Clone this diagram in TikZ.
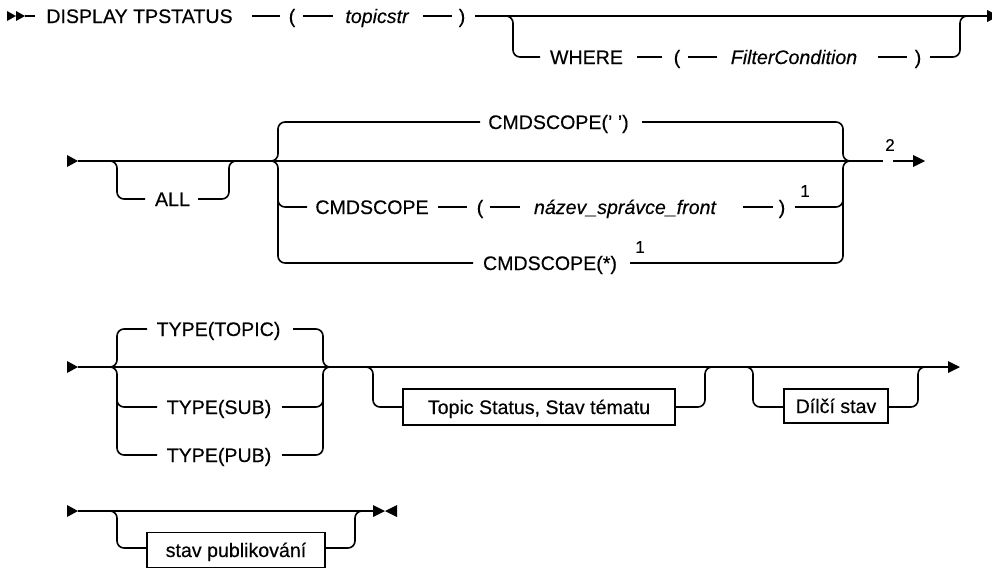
\documentclass[tikz,border=0pt]{standalone}
\usepackage{fontspec}
\setmainfont{Liberation Sans}[FakeBold=0.35]
\begin{document}
\begin{tikzpicture}[x=1pt,y=-1pt,
  rr/.style={line width=1.6pt,rounded corners=7pt},
  kw/.style={font=\fontsize{19.6}{22}\selectfont,inner sep=0pt,text height=14pt,text depth=0pt,anchor=center},
  var/.style={kw,font=\fontsize{19.6}{22}\selectfont\itshape},
  supn/.style={font=\fontsize{17}{20}\selectfont,inner sep=0pt,anchor=center},
  boxn/.style={draw,line width=1.4pt,font=\fontsize{19.6}{22}\selectfont,inner sep=0pt,text height=14pt,text depth=0pt,minimum height=36pt,anchor=center},
  tip/.style={fill=black}]
\useasboundingbox (0,0) rectangle (992,571);
% ---------------- Row 1 ----------------
\fill[tip] (7,11)--(16,16)--(7,21)--cycle;
\fill[tip] (16,11)--(25,16)--(16,21)--cycle;
\draw[rr] (25,16)--(35,16);
\node[kw] (disp) at (139.5,16) {DISPLAY TPSTATUS};
\draw[rr] (252,16)--(280,16);
\node[kw] (lp1) at (292,16) {(};
\draw[rr] (303,16)--(333,16);
\node[var] (topic) at (377,16) {topicstr};
\draw[rr] (423,16)--(452,16);
\node[kw] (rp1) at (462,16) {)};
\draw[rr] (475,16)--(990,16);
\draw[rr] (503,16)--(513,16)--(513,57)--(540,57);
\node[kw] (where) at (586.5,57) {WHERE};
\draw[rr] (637,57)--(662,57);
\node[kw] (lp2) at (677,57) {(};
\draw[rr] (688,57)--(717,57);
\node[var] (filt) at (794,57) {FilterCondition};
\draw[rr] (878,57)--(907,57);
\node[kw] (rp2) at (918,57) {)};
\draw[rr] (930,57)--(960,57)--(960,16)--(970,16);
\fill[tip] (987,10)--(999,16)--(987,22)--cycle;
% ---------------- Row 2 ----------------
\fill[tip] (67,155)--(78,161)--(67,167)--cycle;
\draw[rr] (78,161)--(883,161);
\draw[rr] (105,161)--(117,161)--(117,199)--(145,199);
\node[kw] (all) at (172.5,199) {ALL};
\draw[rr] (198,199)--(229,199)--(229,161)--(240,161);
% left choice
\draw[rr] (266,161)--(278,161)--(278,122)--(480,122);
\draw[rr] (266,161)--(278,161)--(278,263)--(473,263);
\draw[rr] (278,185)--(278,207)--(307,207);
\node[kw] (cs1) at (558.5,122) {CMDSCOPE(' ')};
\draw[rr] (642,122)--(843,122)--(843,161)--(855,161);
\node[kw] (cs2) at (372,207) {CMDSCOPE};
\draw[rr] (438,207)--(467,207);
\node[kw] (lp3) at (480,207) {(};
\draw[rr] (490,207)--(520,207);
\node[var] (qm) at (625,207) {název\_správce\_front};
\draw[rr] (743,207)--(773,207);
\node[kw] (rp3) at (782,207) {)};
\node[supn] (n1a) at (805,191) {1};
\draw[rr] (795,207)--(843,207)--(843,185);
\node[kw] (cs3) at (550,263) {CMDSCOPE(*)};
\node[supn] (n1b) at (640,247) {1};
\draw[rr] (630,263)--(843,263)--(843,161)--(855,161);
\node[supn] (n2) at (890,145) {2};
\draw[rr] (893,161)--(914,161);
\fill[tip] (913,155)--(925,161)--(913,167)--cycle;
% ---------------- Row 3 ----------------
\fill[tip] (67,361)--(78,367)--(67,373)--cycle;
\draw[rr] (78,367)--(949,367);
\fill[tip] (948,361)--(960,367)--(948,373)--cycle;
\draw[rr] (105,367)--(117,367)--(117,329)--(147,329);
\draw[rr] (105,367)--(117,367)--(117,455)--(157,455);
\draw[rr] (117,390)--(117,407)--(157,407);
\node[kw] (tt) at (218.5,329) {TYPE(TOPIC)};
\node[kw] (ts) at (219,407) {TYPE(SUB)};
\node[kw] (tp) at (219,455) {TYPE(PUB)};
\draw[rr] (293,329)--(323,329)--(323,367)--(335,367);
\draw[rr] (282,455)--(323,455)--(323,367)--(335,367);
\draw[rr] (282,407)--(323,407)--(323,390);
\node[boxn,minimum width=272pt] (tsb) at (539,407) {Topic Status, Stav tématu};
\draw[rr] (361,367)--(373,367)--(373,407)--(tsb.west);
\draw[rr] (tsb.east)--(705,407)--(705,367)--(717,367);
\node[boxn,minimum width=104pt,minimum height=34pt] (dsb) at (836,406) {Dílčí stav};
\draw[rr] (741,367)--(753,367)--(753,407)--(dsb.west|-0,407);
\draw[rr] (dsb.east|-0,407)--(918,407)--(918,367)--(930,367);
% ---------------- Row 4 ----------------
\fill[tip] (67,505)--(78,511)--(67,517)--cycle;
\draw[rr] (78,511)--(374,511);
\node[boxn,minimum width=178pt,minimum height=35pt] (spb) at (236,550) {stav publikování};
\draw[rr] (105,511)--(117,511)--(117,548)--(spb.west|-0,548);
\draw[rr] (spb.east|-0,548)--(355,548)--(355,511)--(367,511);
\fill[tip] (373,505)--(385,511)--(373,517)--cycle;
\fill[tip] (397,505)--(385,511)--(397,517)--cycle;
\end{tikzpicture}
\end{document}
